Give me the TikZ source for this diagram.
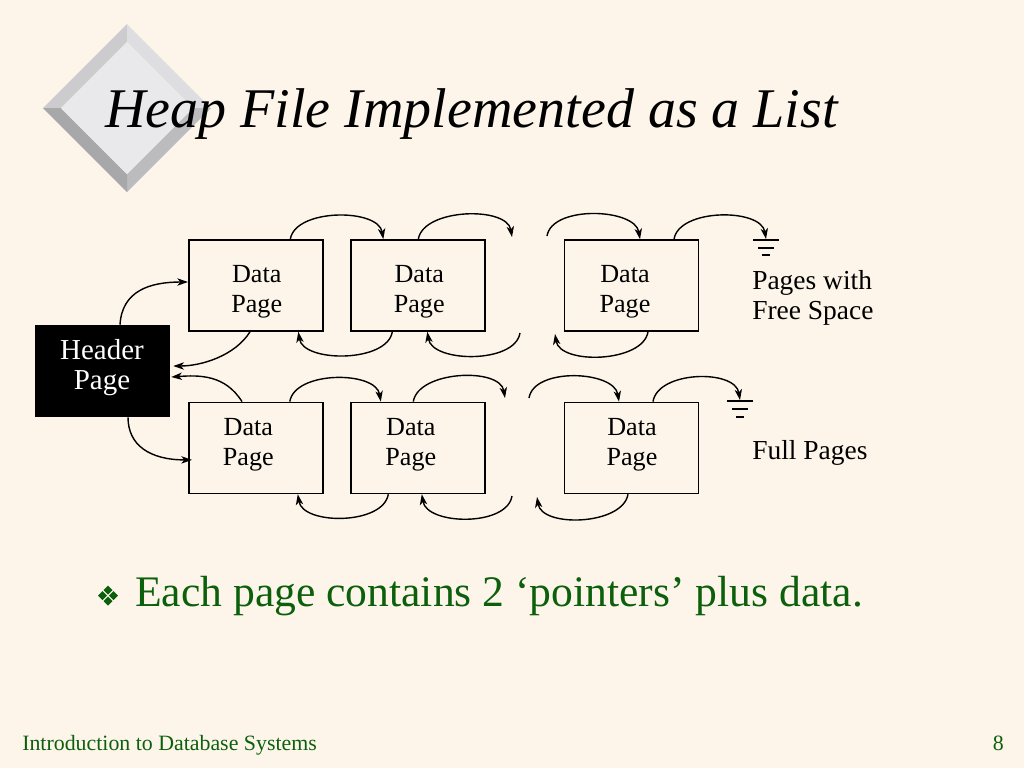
\documentclass[tikz,border=0pt]{standalone}
\usepackage{fontspec}
\setmainfont{Liberation Serif}
\usetikzlibrary{arrows.meta,calc}
\definecolor{bgc}{RGB}{253,245,234}
\definecolor{grn}{RGB}{12,96,12}
\definecolor{bevUL}{RGB}{204,204,207}
\definecolor{bevUR}{RGB}{222,222,225}
\definecolor{bevLR}{RGB}{188,188,191}
\definecolor{bevLL}{RGB}{168,168,171}
\definecolor{dface}{RGB}{233,233,236}
\tikzset{
  pagebox/.style={draw=black,line width=1.2pt,minimum width=100.5pt,minimum height=68.25pt,inner sep=0pt},
  headbox/.style={fill=black,minimum width=101.25pt,minimum height=69pt,inner sep=0pt},
  txt/.style={anchor=base,inner sep=0pt,font=\fontsize{19.6}{22}\selectfont},
  wtxt/.style={anchor=base,inner sep=0pt,text=white,font=\fontsize{21.7}{24}\selectfont},
  ltxt/.style={anchor=base west,inner sep=0pt,font=\fontsize{20.6}{23}\selectfont},
  link/.style={line width=1.05pt,-{Stealth[length=8pt,width=5.5pt,inset=2.2pt]}},
  gnd/.style={line width=1pt}
}
\begin{document}
\begin{tikzpicture}[x=0.75pt,y=-0.75pt]
\fill[bgc] (0,0) rectangle (1024,768);
\useasboundingbox (0,0) rectangle (1024,768);
% bevelled diamond
\fill[bevUL] (43,108) -- (127,24) -- (127,42) -- (61,108) -- cycle;
\fill[bevUR] (127,24) -- (211,108) -- (193,108) -- (127,42) -- cycle;
\fill[bevLR] (211,108) -- (127,192) -- (127,174) -- (193,108) -- cycle;
\fill[bevLL] (127,192) -- (43,108) -- (61,108) -- (127,174) -- cycle;
\fill[dface] (127,42) -- (193,108) -- (127,174) -- (61,108) -- cycle;
% title
\node[anchor=base west,inner sep=0pt,font=\fontsize{42}{48}\selectfont\itshape] (title) at (105,127) {Heap File Implemented as a List};
% boxes
\node[pagebox] (t1) at (255.8,285.5) {};
\node[pagebox] (t2) at (417.8,285.5) {};
\node[pagebox] (t3) at (631.5,285.5) {};
\node[pagebox] (b1) at (255.8,447.9) {};
\node[pagebox] (b2) at (417.8,447.9) {};
\node[pagebox] (b3) at (631.5,447.9) {};
\node[headbox] (h) at (102.5,371) {};
% box texts
\node[txt] (t1a) at (256.7,282.3) {Data};
\node[txt] (t1b) at (256.7,312.3) {Page};
\node[txt] (t2a) at (419.2,282.3) {Data};
\node[txt] (t2b) at (419.2,312.3) {Page};
\node[txt] (t3a) at (625,282.3) {Data};
\node[txt] (t3b) at (625,312.3) {Page};
\node[txt] (b1a) at (248.3,435.7) {Data};
\node[txt] (b1b) at (248.3,465.7) {Page};
\node[txt] (b2a) at (410.8,435.7) {Data};
\node[txt] (b2b) at (410.8,465.7) {Page};
\node[txt] (b3a) at (632,435.7) {Data};
\node[txt] (b3b) at (632,465.7) {Page};
\node[wtxt] (ha) at (102,359) {Header};
\node[wtxt] (hb) at (102,389) {Page};
% right labels
\node[ltxt] (fs1) at (752,289) {Pages with};
\node[ltxt] (fs2) at (752,319) {Free Space};
\node[ltxt] (fp) at (752,459) {Full Pages};
% gap ends and grounds
\coordinate (gT1) at (512,237);
\coordinate (gT2) at (547,236);
\coordinate (gT3) at (520,333);
\coordinate (gT4) at (555,334);
\coordinate (gB1) at (505,398);
\coordinate (gB2) at (529,398);
\coordinate (gB3) at (512,496);
\coordinate (gB4) at (537,497);
\coordinate (g1) at (766,239);
\coordinate (g2) at (740,400);
\draw[gnd] ($(g1)+(-13,1)$) -- ++(26,0);
\draw[gnd] ($(g1)+(-8,9)$) -- ++(16,0);
\draw[gnd] ($(g1)+(-4,16)$) -- ++(8,0);
\draw[gnd] ($(g2)+(-13,1)$) -- ++(26,0);
\draw[gnd] ($(g2)+(-8,9)$) -- ++(16,0);
\draw[gnd] ($(g2)+(-4,17)$) -- ++(8,0);
% top row, upper arcs
\draw[link] ($(t1.north)+(34.5,0)$) .. controls +(5,-31) and +(-5,-31) .. ($(t2.north)+(-34.5,0)$);
\draw[link] ($(t2.north)+(0.5,0)$) .. controls +(5,-31) and +(-5,-31) .. (gT1);
\draw[link] (gT2) .. controls +(5,-31) and +(-5,-31) .. ($(t3.north)+(8.5,0)$);
\draw[link] ($(t3.north)+(42.5,0)$) .. controls +(5,-31) and +(-5,-31) .. (g1);
% top row, lower arcs
\draw[link] ($(t2.south)+(-25.5,0)$) .. controls +(-5,31) and +(5,31) .. ($(t1.south)+(42.5,0)$);
\draw[link] (gT3) .. controls +(-5,31) and +(5,31) .. ($(t2.south)+(9.5,0)$);
\draw[link] ($(t3.south)+(16.5,0)$) .. controls +(-5,31) and +(5,31) .. (gT4);
% bottom row, upper arcs
\draw[link] ($(b1.north)+(34,0)$) .. controls +(5,-31) and +(-5,-31) .. ($(b2.north)+(-37,0)$);
\draw[link] ($(b2.north)+(-4.5,0)$) .. controls +(5,-31) and +(-5,-31) .. (gB1);
\draw[link] (gB2) .. controls +(5,-31) and +(-5,-31) .. ($(b3.north)+(-12.5,0)$);
\draw[link] ($(b3.north)+(21.5,0)$) .. controls +(5,-31) and +(-5,-31) .. (g2);
% bottom row, lower arcs
\draw[link] ($(b2.south)+(-29.5,0)$) .. controls +(-5,31) and +(5,31) .. ($(b1.south)+(42,0)$);
\draw[link] (gB3) .. controls +(-5,31) and +(5,31) .. ($(b2.south)+(4,0)$);
\draw[link] ($(b3.south)+(-3.5,0)$) .. controls +(-5,31) and +(5,31) .. (gB4);
% header links
\draw[link] ($(h.north)+(17.5,0)$) .. controls +(2,-34) and +(-38,0) .. ($(t1.west)+(0,-3.5)$);
\draw[link] ($(t1.south)+(-5.8,0)$) .. controls +(-15,24) and +(28,0) .. ($(h.east)+(3,-5)$);
\draw[link] ($(b1.north)+(-13.8,0)$) .. controls +(-17,-27) and +(28,-2) .. ($(h.east)+(1,6)$);
\draw[link] ($(h.south)+(25.5,0)$) .. controls +(0,28) and +(-42,0) .. ($(b1.west)+(4,12)$);
% bullet
\fill[grn] (108,585.5) -- ++(4.5,4.5) -- ++(-4.5,4.5) -- ++(-4.5,-4.5) -- cycle;
\fill[grn] (108,596.5) -- ++(4.5,4.5) -- ++(-4.5,4.5) -- ++(-4.5,-4.5) -- cycle;
\fill[grn] (102.5,591) -- ++(4.5,4.5) -- ++(-4.5,4.5) -- ++(-4.5,-4.5) -- cycle;
\fill[grn] (113.5,591) -- ++(4.5,4.5) -- ++(-4.5,4.5) -- ++(-4.5,-4.5) -- cycle;
\node[anchor=base west,inner sep=0pt,text=grn,font=\fontsize{32.7}{36}\selectfont] (bul) at (135,606) {Each page contains 2 `pointers' plus data.};
% footer
\node[anchor=base west,inner sep=0pt,text=grn,font=\fontsize{16.4}{19}\selectfont] (foot) at (22,750) {Introduction to Database Systems};
\node[anchor=base east,inner sep=0pt,text=grn,font=\fontsize{16.4}{19}\selectfont] (pnum) at (1004,750) {8};
\end{tikzpicture}
\end{document}
